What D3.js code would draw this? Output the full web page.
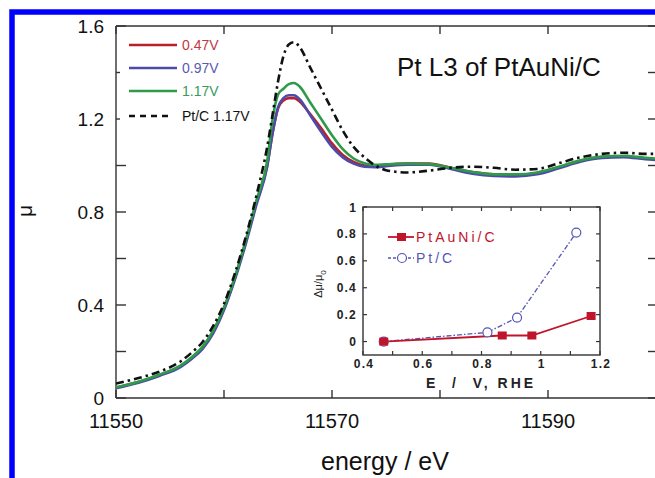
<!DOCTYPE html>
<html><head><meta charset="utf-8">
<script src="https://cdn.jsdelivr.net/npm/d3@7"></script>
<style>
html,body{margin:0;padding:0;background:#fff;}
svg{display:block;font-family:"Liberation Sans",Arial,sans-serif;}
</style></head>
<body><svg id="c" width="655" height="478"></svg>
<script>
// ---- data ----
const energy = [11550, 11552, 11554, 11556, 11557, 11558, 11559, 11560, 11561, 11562, 11563, 11564, 11564.5, 11565, 11565.5, 11566, 11566.5, 11567, 11568, 11569, 11570, 11571, 11572, 11573, 11574, 11575, 11577, 11579, 11581, 11583, 11585, 11587, 11589, 11591, 11593, 11595, 11597, 11599, 11600];
const mu047 = [0.045, 0.068, 0.098, 0.138, 0.172, 0.215, 0.285, 0.385, 0.515, 0.67, 0.84, 1.0, 1.14, 1.245, 1.28, 1.29, 1.29, 1.275, 1.22, 1.16, 1.095, 1.045, 1.015, 1.0, 0.998, 1.003, 1.008, 1.008, 0.99, 0.972, 0.962, 0.96, 0.968, 0.993, 1.02, 1.036, 1.04, 1.03, 1.027];
const mu097 = [0.042, 0.065, 0.095, 0.134, 0.168, 0.21, 0.278, 0.378, 0.508, 0.66, 0.83, 0.995, 1.14, 1.25, 1.29, 1.302, 1.302, 1.285, 1.215, 1.145, 1.08, 1.035, 1.008, 0.995, 0.993, 0.997, 1.003, 1.003, 0.985, 0.965, 0.955, 0.953, 0.962, 0.988, 1.016, 1.032, 1.036, 1.027, 1.024];
const mu117 = [0.046, 0.069, 0.1, 0.14, 0.175, 0.22, 0.29, 0.39, 0.52, 0.675, 0.85, 1.02, 1.2, 1.305, 1.33, 1.35, 1.355, 1.34, 1.27, 1.2, 1.13, 1.07, 1.03, 1.01, 1.003, 1.005, 1.008, 1.006, 0.99, 0.972, 0.962, 0.962, 0.97, 0.995, 1.022, 1.038, 1.042, 1.033, 1.03];
const muPtC = [0.062, 0.085, 0.113, 0.158, 0.195, 0.24, 0.31, 0.405, 0.535, 0.69, 0.87, 1.08, 1.22, 1.36, 1.47, 1.52, 1.53, 1.51, 1.42, 1.33, 1.24, 1.15, 1.08, 1.035, 1.0, 0.98, 0.97, 0.978, 0.99, 0.995, 0.99, 0.982, 0.985, 1.01, 1.035, 1.05, 1.055, 1.05, 1.05];
const seriesNames = ["0.47V", "0.97V", "1.17V", "Pt/C 1.17V"];
const xTickLabels = [11550, 11570, 11590];
const yTickLabels = [0, 0.4, 0.8, 1.2, 1.6];
// inset
const insetE_PtAuNi = [0.47, 0.87, 0.97, 1.17];
const insetD_PtAuNi = [0.0, 0.045, 0.045, 0.19];
const insetE_PtC = [0.47, 0.82, 0.92, 1.12];
const insetD_PtC = [0.0, 0.068, 0.178, 0.81];
const insetNames = ["PtAuNi/C", "Pt/C"];
const insetXTicks = [0.4, 0.6, 0.8, 1, 1.2];
const insetYTicks = [0, 0.2, 0.4, 0.6, 0.8, 1];

// ---- drawing ----
const svg = d3.select("#c");
const axisCol = "#333";
const x = d3.scaleLinear().domain([11550, 11600]).range([116, 656]);
const y = d3.scaleLinear().domain([0, 1.6]).range([398, 26]);

// frame
const g = svg.append("g");
g.append("line").attr("x1",116).attr("x2",670).attr("y1",26).attr("y2",26).attr("stroke",axisCol).attr("stroke-width",1.4);
g.append("line").attr("x1",116).attr("x2",116).attr("y1",26).attr("y2",398).attr("stroke",axisCol).attr("stroke-width",1.4);
g.append("line").attr("x1",116).attr("x2",670).attr("y1",398).attr("y2",398).attr("stroke",axisCol).attr("stroke-width",1.4);
g.append("line").attr("x1",656).attr("x2",656).attr("y1",26).attr("y2",398).attr("stroke",axisCol).attr("stroke-width",1.4);

const xt = d3.range(11550, 11601, 10);
const yt = d3.range(0, 1.61, 0.2);
xt.forEach(v=>{
  g.append("line").attr("x1",x(v)).attr("x2",x(v)).attr("y1",398).attr("y2",390).attr("stroke",axisCol).attr("stroke-width",1.4);
  g.append("line").attr("x1",x(v)).attr("x2",x(v)).attr("y1",26).attr("y2",34).attr("stroke",axisCol).attr("stroke-width",1.4);
});
yt.forEach(v=>{
  g.append("line").attr("x1",116).attr("x2",126).attr("y1",y(v)).attr("y2",y(v)).attr("stroke",axisCol).attr("stroke-width",1.4);
  g.append("line").attr("x1",648).attr("x2",656).attr("y1",y(v)).attr("y2",y(v)).attr("stroke",axisCol).attr("stroke-width",1.4);
});
xTickLabels.forEach(v=>{
  g.append("text").attr("x",x(v)).attr("y",428).attr("text-anchor","middle").attr("font-size",20).attr("fill","#111").text(v);
});
yTickLabels.forEach(v=>{
  g.append("text").attr("x",104).attr("y",y(v)+7).attr("text-anchor","end").attr("font-size",19).attr("fill","#111").text(v===0?"0":v.toFixed(1));
});

// axis titles
svg.append("text").attr("x",385).attr("y",470).attr("text-anchor","middle").attr("font-size",25).attr("fill","#111").text("energy / eV");
svg.append("text").attr("transform","translate(32,211) rotate(-90)").attr("text-anchor","middle").attr("font-size",21).attr("fill","#111").text("μ");
svg.append("text").attr("x",397).attr("y",76).attr("font-size",26).attr("fill","#111").text("Pt L3 of PtAuNi/C");

// curves
const clip = svg.append("clipPath").attr("id","pc").append("rect").attr("x",116).attr("y",26).attr("width",540).attr("height",372);
const line = d3.line().x((d,i)=>x(energy[i])).y(d=>y(d)).curve(d3.curveMonotoneX);
const colors = ["#b8202c", "#4c4ca8", "#2e9a4a", "#111"];
const cg = svg.append("g").attr("clip-path","url(#pc)");
[mu047, mu097, mu117].forEach((s,k)=>{
  cg.append("path").attr("d",line(s)).attr("fill","none").attr("stroke",colors[k]).attr("stroke-width",2.6);
});
cg.append("path").attr("d",line(muPtC)).attr("fill","none").attr("stroke",colors[3]).attr("stroke-width",2.6).attr("stroke-dasharray","8,4,2.5,4");

// legend
svg.append("rect").attr("x",120).attr("y",35).attr("width",132).attr("height",92).attr("fill","#fff");
const legY = [45, 68, 91, 116];
const textCols = ["#c0393f", "#5a5ab0", "#3a9a5a", "#111"];
seriesNames.forEach((n,k)=>{
  const l = svg.append("line").attr("x1",129).attr("x2",k===3?172:177).attr("y1",legY[k]).attr("y2",legY[k]).attr("stroke",colors[k]).attr("stroke-width",2.4);
  if(k===3) l.attr("stroke-dasharray","6,5");
  svg.append("text").attr("x",k===3?182:182).attr("y",legY[k]+5).attr("font-size",14).attr("fill",textCols[k]).text(n);
});

// ---- inset ----
const ix = d3.scaleLinear().domain([0.4, 1.2]).range([363, 600]);
const iy = d3.scaleLinear().domain([-0.1, 1]).range([355, 207]);
const ig = svg.append("g");
ig.append("rect").attr("x",363).attr("y",207).attr("width",237).attr("height",148).attr("fill","#fff").attr("stroke",axisCol).attr("stroke-width",1.4);
d3.range(0.4, 1.201, 0.1).forEach(v=>{
  ig.append("line").attr("x1",ix(v)).attr("x2",ix(v)).attr("y1",355).attr("y2",351).attr("stroke",axisCol).attr("stroke-width",1.2);
  ig.append("line").attr("x1",ix(v)).attr("x2",ix(v)).attr("y1",207).attr("y2",211).attr("stroke",axisCol).attr("stroke-width",1.2);
});
insetYTicks.forEach(v=>{
  ig.append("line").attr("x1",363).attr("x2",367).attr("y1",iy(v)).attr("y2",iy(v)).attr("stroke",axisCol).attr("stroke-width",1.2);
  ig.append("line").attr("x1",596).attr("x2",600).attr("y1",iy(v)).attr("y2",iy(v)).attr("stroke",axisCol).attr("stroke-width",1.2);
  ig.append("text").attr("x",357).attr("y",iy(v)+4.5).attr("text-anchor","end").attr("font-size",12).attr("font-weight","bold").attr("letter-spacing",1.2).attr("fill","#222").text(v===0||v===1?String(v):v.toFixed(1));
});
insetXTicks.forEach(v=>{
  ig.append("text").attr("x",ix(v)+1).attr("y",368).attr("text-anchor","middle").attr("font-size",12).attr("font-weight","bold").attr("letter-spacing",1.2).attr("fill","#222").text(v===1?"1":v.toFixed(1));
});
ig.append("text").attr("x",481).attr("y",388).attr("text-anchor","middle").attr("font-size",14).attr("font-weight","bold").attr("letter-spacing",3).attr("fill","#222").style("white-space","pre").text("E  /  V, RHE");
const yl = ig.append("text").attr("transform","translate(322,284) rotate(-90)").attr("text-anchor","middle").attr("font-size",11).attr("fill","#222");
yl.append("tspan").text("Δμ/μ");
yl.append("tspan").attr("dy",4).attr("font-size",8).text("0");

const red = "#c0142a", blu = "#5555b5";
const lineA = d3.line().x((d,i)=>ix(insetE_PtAuNi[i])).y(d=>iy(d));
const lineB = d3.line().x((d,i)=>ix(insetE_PtC[i])).y(d=>iy(d));
ig.append("path").attr("d",lineB(insetD_PtC)).attr("fill","none").attr("stroke",blu).attr("stroke-width",1.3).attr("stroke-dasharray","5,2,1.5,2");
ig.append("path").attr("d",lineA(insetD_PtAuNi)).attr("fill","none").attr("stroke",red).attr("stroke-width",1.8);
insetD_PtC.forEach((d,i)=>{
  ig.append("circle").attr("cx",ix(insetE_PtC[i])).attr("cy",iy(d)).attr("r",4.5).attr("fill","#fff").attr("stroke",blu).attr("stroke-width",1.2);
});
insetD_PtAuNi.forEach((d,i)=>{
  ig.append("rect").attr("x",ix(insetE_PtAuNi[i])-4.5).attr("y",iy(d)-4).attr("width",9).attr("height",8).attr("fill",red);
});
// inset legend
ig.append("line").attr("x1",388).attr("x2",414).attr("y1",237).attr("y2",237).attr("stroke",red).attr("stroke-width",1.8);
ig.append("rect").attr("x",397).attr("y",233).attr("width",9).attr("height",8).attr("fill",red);
ig.append("text").attr("x",416).attr("y",242).attr("font-size",14).attr("letter-spacing",3).attr("fill",red).text(insetNames[0]);
ig.append("line").attr("x1",388).attr("x2",414).attr("y1",258).attr("y2",258).attr("stroke",blu).attr("stroke-width",1.3).attr("stroke-dasharray","3,2");
ig.append("circle").attr("cx",402).attr("cy",258).attr("r",4.5).attr("fill","#fff").attr("stroke",blu).attr("stroke-width",1.2);
ig.append("text").attr("x",416).attr("y",263).attr("font-size",14).attr("letter-spacing",3).attr("fill",blu).text(insetNames[1]);

// blue frame
svg.append("path").attr("d","M12,480 L12,12 L660,12").attr("fill","none").attr("stroke","#0000ff").attr("stroke-width",5.5);
</script></body></html>
